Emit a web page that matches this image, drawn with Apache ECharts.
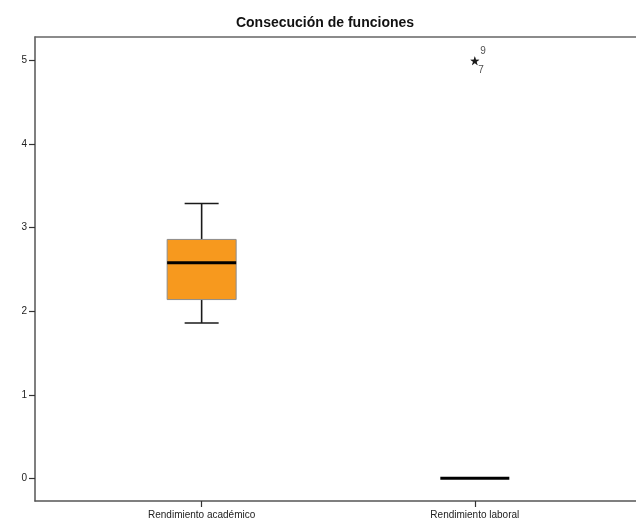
<!DOCTYPE html>
<html>
<head>
<meta charset="utf-8">
<script src="https://cdn.jsdelivr.net/npm/echarts@6/dist/echarts.min.js"></script>
<style>
  html, body { margin: 0; padding: 0; background: #fff; }
  #chart { width: 636px; height: 524px; }
</style>
</head>
<body>
<div id="chart"></div>
<script>
// Box summaries per group (group i sits at x = i + 1)
const categories = ['Rendimiento académico', 'Rendimiento laboral'];
const whiskerLow = [1.86, 0];
const quartile1 = [2.14, 0];
const medians = [2.58, 0];
const quartile3 = [2.86, 0];
const whiskerHigh = [3.29, 0];

// Extreme values (case numbers shown beside the star)
const outlierGroup = [1, 1];
const outlierValues = [5, 5];
const outlierCases = ['9', '7'];

const yTicks = [0, 1, 2, 3, 4, 5];

const boxData = categories.map((c, i) => [i + 1, whiskerLow[i], quartile1[i], medians[i], quartile3[i], whiskerHigh[i]]);
const outlierData = outlierValues.map((v, i) => [outlierGroup[i] + 1, v, outlierCases[i]]);

const BOX_W = 69, CAP_W = 34;
const FONT = '"Liberation Sans", Arial, sans-serif';

function renderBox(params, api) {
  const x = api.value(0);
  const lo = api.coord([x, api.value(1)]);
  const q1 = api.coord([x, api.value(2)]);
  const md = api.coord([x, api.value(3)]);
  const q3 = api.coord([x, api.value(4)]);
  const hi = api.coord([x, api.value(5)]);
  const cx = md[0];
  const whisk = { stroke: '#1a1a1a', lineWidth: 1.6 };
  const children = [];
  if (hi[1] < q3[1] - 0.5) {
    children.push({ type: 'line', shape: { x1: cx, y1: hi[1], x2: cx, y2: q3[1] }, style: whisk });
    children.push({ type: 'line', shape: { x1: cx - CAP_W / 2, y1: hi[1], x2: cx + CAP_W / 2, y2: hi[1] }, style: whisk });
  }
  if (lo[1] > q1[1] + 0.5) {
    children.push({ type: 'line', shape: { x1: cx, y1: q1[1], x2: cx, y2: lo[1] }, style: whisk });
    children.push({ type: 'line', shape: { x1: cx - CAP_W / 2, y1: lo[1], x2: cx + CAP_W / 2, y2: lo[1] }, style: whisk });
  }
  if (q1[1] - q3[1] > 0.5) {
    children.push({
      type: 'rect',
      shape: { x: cx - BOX_W / 2, y: q3[1], width: BOX_W, height: q1[1] - q3[1] },
      style: { fill: '#F7991E', stroke: '#8c8c8c', lineWidth: 1 }
    });
  }
  children.push({
    type: 'line',
    shape: { x1: cx - BOX_W / 2, y1: md[1], x2: cx + BOX_W / 2, y2: md[1] },
    style: { stroke: '#000', lineWidth: 3 }
  });
  return { type: 'group', children };
}

const chart = echarts.init(document.getElementById('chart'), null, { renderer: 'canvas' });
chart.setOption({
  animation: false,
  backgroundColor: '#fff',
  title: {
    text: 'Consecución de funciones',
    left: 320,
    textAlign: 'center',
    top: 11,
    textStyle: { fontFamily: FONT, fontSize: 14, fontWeight: 'bold', color: '#111' }
  },
  grid: { left: 35, right: 0, top: 37, bottom: 23, containLabel: false },
  xAxis: [{
    type: 'value',
    min: 0.39,
    max: 2.59,
    position: 'bottom',
    splitLine: { show: false },
    axisLine: { show: true, onZero: false, lineStyle: { color: '#555', width: 1.5 } },
    axisTick: { show: true, length: 6, customValues: [1, 2], lineStyle: { color: '#333', width: 1.2 } },
    axisLabel: {
      customValues: [1, 2],
      margin: 9,
      fontFamily: FONT, fontSize: 10, color: '#222',
      formatter: v => categories[Math.round(v) - 1] || ''
    }
  }, {
    type: 'value',
    min: 0.39,
    max: 2.59,
    position: 'top',
    splitLine: { show: false },
    axisLine: { show: true, onZero: false, lineStyle: { color: '#666', width: 1.5 } },
    axisTick: { show: false },
    axisLabel: { show: false }
  }],
  yAxis: {
    type: 'value',
    min: -0.272,
    max: 5.284,
    splitLine: { show: false },
    axisLine: { show: true, onZero: false, lineStyle: { color: '#555', width: 1.5 } },
    axisTick: { show: true, length: 6, customValues: yTicks, lineStyle: { color: '#333', width: 1.2 } },
    axisLabel: {
      customValues: yTicks,
      margin: 8,
      fontFamily: FONT, fontSize: 10, color: '#222'
    }
  },
  series: [{
    type: 'custom',
    xAxisIndex: 0,
    renderItem: renderBox,
    data: boxData,
    encode: { x: 0, y: [1, 2, 3, 4, 5] },
    clip: false
  }, {
    type: 'scatter',
    xAxisIndex: 0,
    symbol: 'path://M12 0 L14.9 8.6 L24 8.6 L16.6 13.9 L19.4 22.5 L12 17.2 L4.6 22.5 L7.4 13.9 L0 8.6 L9.1 8.6 Z',
    symbolSize: 9,
    itemStyle: { color: '#111' },
    data: outlierData.map((d, i) => ({
      value: d,
      label: {
        show: true,
        position: 'right',
        distance: 0,
        offset: i === 0 ? [1, -9] : [-1, 10],
        formatter: p => p.value[2],
        fontFamily: FONT, fontSize: 10, color: '#222'
      }
    }))
  }]
});
</script>
</body>
</html>
